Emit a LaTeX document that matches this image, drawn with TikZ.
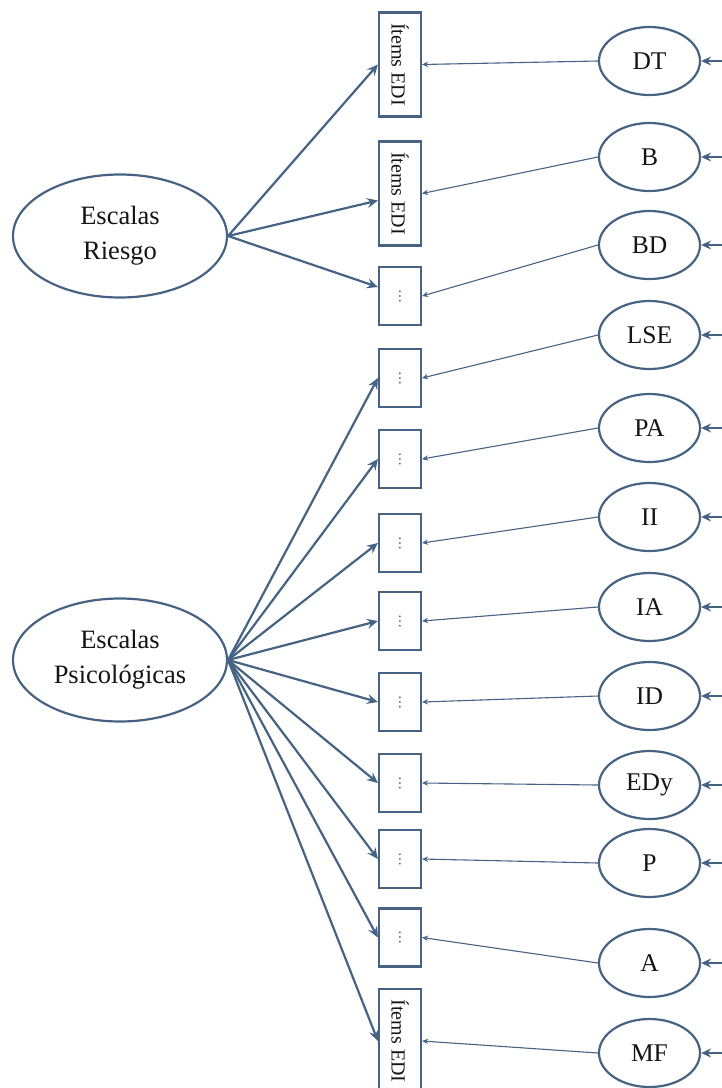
\documentclass[tikz,border=0pt]{standalone}
\usepackage{fontspec}
\setmainfont{Liberation Serif}
\usetikzlibrary{shapes.geometric,arrows.meta}
\definecolor{edge}{RGB}{70,99,132}
\definecolor{ink}{RGB}{20,20,20}
\tikzset{
  factor/.style={ellipse, draw=edge, line width=2.2pt, inner sep=0pt,
    minimum width=214pt, minimum height=123pt, text=ink, align=center,
    font=\fontsize{26.5}{35}\selectfont},
  scale node/.style={ellipse, draw=edge, line width=2.2pt, inner sep=0pt,
    minimum width=101pt, minimum height=68pt, text=ink,
    font=\fontsize{25.5}{30}\selectfont},
  itembox/.style={rectangle, draw=edge, line width=2.2pt, inner sep=0pt,
    minimum width=42pt, minimum height=104pt, text=ink,
    font=\fontsize{20}{22}\selectfont},
  dotbox/.style={rectangle, draw=edge, line width=2.2pt, inner sep=0pt,
    minimum width=42pt, minimum height=58pt, text=ink!85,
    font=\fontsize{14}{16}\selectfont},
  load/.style={draw=edge, line width=2.2pt,
    -{Stealth[length=11pt,width=10pt,inset=4pt]}},
  resid/.style={draw=edge, line width=1.1pt,
    -{Stealth[length=6pt,width=5.5pt,inset=2pt]}},
  error/.style={draw=edge, line width=2.2pt,
    -{Stealth[length=10pt,width=9pt,inset=3.5pt]}}
}
\newcommand{\itemtext}{\rotatebox{-90}{Ítems EDI}}
\newcommand{\vdotstext}{\rotatebox{-90}{\ldots}}
\begin{document}
\begin{tikzpicture}[x=1pt,y=-1pt]
\useasboundingbox (0,0) rectangle (721,1088);

% latent factors
\node[factor] (riesgo) at (120,236) {Escalas\\Riesgo};
\node[factor] (psico)  at (120,660) {Escalas\\Psicológicas};

% indicator boxes
\node[itembox] (r1)  at (400,64.5)  {\itemtext};
\node[itembox] (r2)  at (400,193.5) {\itemtext};
\node[dotbox]  (r3)  at (400,296)   {\vdotstext};
\node[dotbox]  (r4)  at (400,378)   {\vdotstext};
\node[dotbox]  (r5)  at (400,459)   {\vdotstext};
\node[dotbox]  (r6)  at (400,543)   {\vdotstext};
\node[dotbox]  (r7)  at (400,621)   {\vdotstext};
\node[dotbox]  (r8)  at (400,702)   {\vdotstext};
\node[dotbox]  (r9)  at (400,783)   {\vdotstext};
\node[dotbox]  (r10) at (400,859)   {\vdotstext};
\node[dotbox]  (r11) at (400,937.5) {\vdotstext};
\node[itembox] (r12) at (400,1041)  {\itemtext};

% EDI subscales
\node[scale node] (e1)  at (649.5,61)   {DT};
\node[scale node] (e2)  at (649.5,157)  {B};
\node[scale node] (e3)  at (649.5,245)  {BD};
\node[scale node] (e4)  at (649.5,335)  {LSE};
\node[scale node] (e5)  at (649.5,428)  {PA};
\node[scale node] (e6)  at (649.5,517)  {II};
\node[scale node] (e7)  at (649.5,607)  {IA};
\node[scale node] (e8)  at (649.5,696)  {ID};
\node[scale node] (e9)  at (649.5,785)  {EDy};
\node[scale node] (e10) at (649.5,863)  {P};
\node[scale node] (e11) at (649.5,963)  {A};
\node[scale node] (e12) at (649.5,1053) {MF};

% loadings of the risk factor
\draw[load] (riesgo.east) -- (r1.west);
\draw[load] (riesgo.east) -- ([yshift=-7pt]r2.west);
\draw[load] (riesgo.east) -- ([yshift=9pt]r3.west);

% loadings of the psychological factor
\foreach \i in {4,...,12}
  \draw[load] (psico.east) -- (r\i.west);

% subscale to indicator links
\foreach \i in {1,...,12}
  \draw[resid] (e\i.west) -- (r\i.east);

% error terms entering from the right
\foreach \i in {1,...,12} {
  \coordinate (u\i) at ([xshift=24pt]e\i.east);
  \draw[error] (u\i) -- (e\i.east);
}
\end{tikzpicture}
\end{document}
